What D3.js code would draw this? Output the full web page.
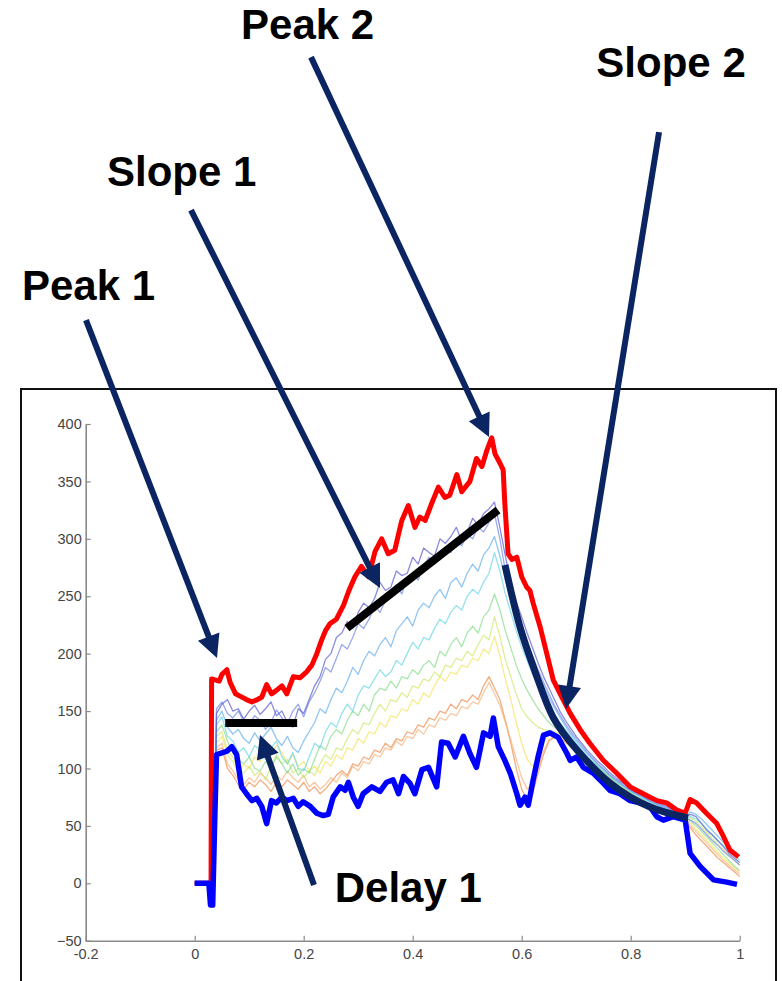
<!DOCTYPE html>
<html>
<head>
<meta charset="utf-8">
<script src="https://cdn.jsdelivr.net/npm/d3@7"></script>
<style>
html,body{margin:0;padding:0;background:#fff;}
svg{display:block;}
</style>
</head>
<body>
<svg id="chart" width="782" height="981"></svg>
<script>
// ---------------- DATA ----------------
const xTicks = [-0.2, 0, 0.2, 0.4, 0.6, 0.8, 1];
const xTickLabels = ["-0.2", "0", "0.2", "0.4", "0.6", "0.8", "1"];
const yTicks = [-50, 0, 50, 100, 150, 200, 250, 300, 350, 400];

// thick upper envelope (red) [x, value]
const redSeries = [[0,0],[0.03,0],[0.031,178],[0.045,176],[0.05,182],[0.059,186],[0.065,175],[0.075,165],[0.083,163],[0.095,160],[0.105,158],[0.115,160],[0.123,162],[0.132,173],[0.141,165],[0.15,168],[0.16,172],[0.169,165],[0.181,180],[0.193,179],[0.205,184],[0.215,190],[0.224,200],[0.233,212],[0.24,220],[0.248,226],[0.26,230],[0.273,242],[0.283,255],[0.294,267],[0.306,276],[0.319,267],[0.331,289],[0.343,300],[0.355,287],[0.367,290],[0.38,316],[0.392,329],[0.404,310],[0.413,319],[0.423,316],[0.435,331],[0.447,345],[0.459,336],[0.468,338],[0.481,356],[0.49,341],[0.505,350],[0.517,370],[0.527,363],[0.536,377],[0.545,388],[0.551,374],[0.56,366],[0.566,360],[0.569,331],[0.575,287],[0.582,282],[0.591,284],[0.6,267],[0.609,258],[0.615,255],[0.621,244],[0.634,223],[0.646,200],[0.658,177],[0.676,160],[0.689,148],[0.707,134],[0.725,122],[0.75,107],[0.774,96],[0.799,84],[0.823,78],[0.848,72],[0.866,70],[0.884,64],[0.9,61],[0.909,73],[0.921,70],[0.939,61],[0.958,52],[0.97,41],[0.982,29],[0.998,23]];

// thick lower envelope (blue) [x, value]
const blueSeries = [[0,0],[0.026,0],[0.029,-19],[0.033,-19],[0.037,60],[0.04,112],[0.059,115],[0.068,119],[0.077,112],[0.086,84],[0.095,78],[0.105,72],[0.114,74],[0.123,67],[0.132,52],[0.141,72],[0.15,70],[0.16,75],[0.169,72],[0.181,74],[0.19,67],[0.199,71],[0.212,67],[0.224,61],[0.236,59],[0.245,60],[0.254,75],[0.267,84],[0.276,81],[0.282,88],[0.291,75],[0.3,67],[0.309,78],[0.325,84],[0.34,80],[0.352,88],[0.364,90],[0.374,78],[0.383,93],[0.395,87],[0.404,78],[0.417,99],[0.429,101],[0.444,84],[0.453,123],[0.465,122],[0.478,110],[0.493,128],[0.505,113],[0.517,101],[0.53,131],[0.542,128],[0.548,144],[0.557,119],[0.569,107],[0.579,96],[0.591,78],[0.597,68],[0.606,75],[0.612,68],[0.621,90],[0.63,110],[0.64,129],[0.652,131],[0.667,127],[0.683,113],[0.689,107],[0.701,110],[0.713,101],[0.731,96],[0.75,87],[0.762,81],[0.78,78],[0.799,72],[0.817,70],[0.835,67],[0.848,58],[0.86,55],[0.878,58],[0.9,55],[0.909,26],[0.927,15],[0.952,3],[0.976,1],[0.995,-1]];

// shared x grid for thin traces: 0, 0.03, 0.035, then 0.04 .. 1.00 by 0.01
const thinX = [0, 0.03, 0.035, 0.04,0.05,0.06,0.07,0.08,0.09,0.10,0.11,0.12,0.13,0.14,0.15,0.16,0.17,0.18,0.19,0.20,0.21,0.22,0.23,0.24,0.25,0.26,0.27,0.28,0.29,0.30,0.31,0.32,0.33,0.34,0.35,0.36,0.37,0.38,0.39,0.40,0.41,0.42,0.43,0.44,0.45,0.46,0.47,0.48,0.49,0.50,0.51,0.52,0.53,0.54,0.55,0.56,0.57,0.58,0.59,0.60,0.61,0.62,0.63,0.64,0.65,0.66,0.67,0.68,0.69,0.70,0.71,0.72,0.73,0.74,0.75,0.76,0.77,0.78,0.79,0.80,0.81,0.82,0.83,0.84,0.85,0.86,0.87,0.88,0.89,0.90,0.91,0.92,0.93,0.94,0.95,0.96,0.97,0.98,0.99,1.00];

const trace1 = [0,0,0,148,156,160,150,152,143,150,155,147,152,158,146,150,140,136,152,148,160,172,180,195,200,214,218,228,222,236,244,240,248,262,255,258,272,268,270,284,278,292,288,285,300,296,302,310,298,306,318,312,322,326,332,310,285,262,245,232,218,205,192,180,170,160,150,142,135,128,122,116,111,106,102,97,93,89,86,82,79,77,74,72,70,68,66,63,61,58,60,58,52,46,42,37,32,26,22,18];
const trace2 = [0,0,0,152,158,148,144,150,141,138,146,142,134,140,151,144,139,150,156,145,158,166,176,188,184,196,208,204,214,226,222,230,242,236,246,254,260,252,266,270,264,276,284,278,282,292,288,298,294,304,300,310,306,314,322,300,272,250,236,222,210,198,186,175,165,155,147,139,132,126,120,114,109,104,100,95,91,88,84,81,78,76,73,71,69,67,65,62,60,57,55,52,47,42,37,33,28,24,20,16];
const trace3 = [0,0,0,142,150,136,130,134,126,122,131,124,130,136,126,120,128,118,114,124,132,140,152,148,160,170,166,176,188,182,194,202,198,208,214,206,220,226,232,224,238,244,240,250,256,248,262,266,258,270,278,272,286,292,302,285,265,248,232,218,205,193,182,172,162,153,145,137,130,124,118,113,108,103,99,95,91,87,84,80,78,75,73,70,68,66,64,62,60,58,62,60,56,51,46,41,36,31,27,24];
const trace4 = [0,0,0,138,145,128,124,114,118,110,120,116,108,118,124,110,104,114,100,98,110,122,118,132,140,136,148,156,150,164,172,170,178,186,180,184,194,190,200,210,204,214,212,222,230,226,236,242,238,250,256,252,262,270,288,272,252,236,220,206,194,182,172,163,155,147,140,134,128,122,116,111,106,102,98,94,90,86,83,80,77,74,72,70,68,66,64,62,60,57,58,56,52,47,42,37,33,28,24,20];
const trace5 = [0,0,0,132,138,124,114,108,104,110,100,98,106,100,110,104,96,104,94,100,96,108,120,116,128,134,130,142,150,146,156,150,164,170,168,176,170,180,178,186,182,190,194,188,202,198,208,214,206,218,224,218,232,238,252,238,220,205,190,178,168,160,152,146,140,136,132,128,124,120,115,110,106,101,97,93,89,86,82,79,76,74,71,69,67,65,63,61,59,57,54,50,45,40,35,30,25,20,15,11];
const trace6 = [0,0,0,128,132,116,110,100,96,102,94,98,90,102,112,104,108,96,100,92,98,94,104,112,108,118,116,126,134,130,140,138,148,156,150,160,158,166,162,172,170,178,176,184,180,190,188,196,194,202,198,208,216,212,232,215,195,180,165,152,145,140,136,134,133,131,129,126,122,118,113,108,104,100,96,92,88,85,81,78,75,73,70,68,66,64,62,60,58,56,57,54,49,44,39,34,29,24,20,16];
const trace7 = [0,0,0,122,128,112,106,96,104,100,110,106,116,112,120,114,104,112,102,106,98,102,96,106,102,112,108,118,116,126,122,132,130,140,136,146,144,152,150,160,156,166,162,172,180,176,184,182,190,188,196,194,204,200,215,198,178,160,140,122,108,102,110,122,130,132,130,127,123,119,114,109,105,100,96,92,88,84,81,78,75,72,70,68,66,64,62,60,58,56,52,47,42,37,32,27,22,18,14,10];
const trace8 = [0,0,0,118,122,104,98,90,86,92,88,96,92,86,94,90,98,92,88,94,84,88,82,86,92,88,96,92,102,98,106,104,112,110,118,116,124,120,128,126,134,130,138,136,144,142,148,146,154,152,158,156,166,175,165,155,140,125,108,92,82,86,100,115,125,128,127,124,120,116,112,107,103,99,95,91,87,84,80,77,74,72,69,67,65,63,61,59,57,55,50,45,40,35,30,25,20,16,12,8];
const trace9 = [0,0,0,116,118,100,94,86,82,88,84,90,86,80,88,84,90,86,82,88,80,84,78,82,88,94,98,94,104,102,110,108,116,114,122,118,126,124,132,130,138,136,144,142,150,148,156,152,160,158,164,160,172,180,170,160,142,122,100,82,72,78,96,112,124,127,126,123,119,115,111,106,102,98,94,90,86,83,79,76,73,71,68,66,64,62,60,58,56,55,48,42,37,32,27,22,18,14,10,6];

const thinTraces = [trace9, trace8, trace7, trace6, trace5, trace4, trace3, trace2, trace1];
const thinColors = ["#ef8a4c", "#f4b27a", "#f5e35c", "#cfe86a", "#86dc8a", "#66d6e2", "#62aeee", "#6e86e2", "#5a58d0"];

// annotations (in data units)
const labelTexts = ["Peak 2", "Slope 2", "Slope 1", "Peak 1", "Delay 1"];
const labelX = [0.085, 0.737, -0.161, -0.317, 0.257];
const labelY = [735, 702, 607, 508, -16];
const arrowStart = [[-0.1995, 490.5], [-0.0068, 586.3], [0.2134, 719.5], [0.852, 654.2], [0.2189, -1.5]];
const arrowTip = [[0.0409, 196.2], [0.340, 257.1], [0.540, 388.6], [0.6812, 151.8], [0.1198, 129.1]];
const delayBar = [[0.056, 139.7], [0.188, 139.7]];
const slopeBar = [[0.2794, 222.3], [0.5565, 325.1]];
const decayCurve = [[0.5694, 277.2], [0.5969, 223.2], [0.6281, 179.6], [0.6574, 144.8], [0.7015, 116.1], [0.7620, 87.3], [0.8354, 66.4], [0.9051, 56.9]];

// ---------------- DRAW ----------------
const svg = d3.select("#chart");
const x = d3.scaleLinear().domain([-0.2, 1]).range([85.7, 739.7]);
const y = d3.scaleLinear().domain([-50, 400]).range([940.7, 424]);

// outer frame
svg.append("rect").attr("x", 21).attr("y", 389).attr("width", 755).attr("height", 610)
  .attr("fill", "#fff").attr("stroke", "#111").attr("stroke-width", 2);

const axisColor = "#8a8a8a";
const labelColor = "#454545";
const gx = svg.append("g").attr("transform", `translate(0,${y(-50)})`)
  .call(d3.axisBottom(x).tickValues(xTicks).tickFormat((d, i) => xTickLabels[i]).tickSizeInner(-5).tickSizeOuter(0).tickPadding(8));
const gy = svg.append("g").attr("transform", `translate(${x(-0.2)},0)`)
  .call(d3.axisLeft(y).tickValues(yTicks).tickFormat(d3.format("d")).tickSizeInner(-5).tickSizeOuter(0).tickPadding(4));
[gx, gy].forEach(g => {
  g.select(".domain").attr("stroke", axisColor).attr("stroke-width", 1.6);
  g.selectAll(".tick line").attr("stroke", axisColor).attr("stroke-width", 1.2);
  g.selectAll(".tick text").attr("fill", labelColor)
    .style("font-family", "Arial, 'Liberation Sans', sans-serif").style("font-size", "14.5px");
});

const line = d3.line().x(d => x(d[0])).y(d => y(d[1]));

// thin traces
thinTraces.forEach((tr, k) => {
  const pts = thinX.map((xv, i) => [xv, tr[i]]);
  svg.append("path").attr("d", line(pts)).attr("fill", "none")
    .attr("stroke", thinColors[k]).attr("stroke-width", 1.3).attr("stroke-opacity", 0.7)
    .attr("stroke-linejoin", "round");
});

// envelopes
svg.append("path").attr("d", line(redSeries)).attr("fill", "none")
  .attr("stroke", "#ff0000").attr("stroke-width", 5).attr("stroke-linejoin", "round");
svg.append("path").attr("d", line(blueSeries)).attr("fill", "none")
  .attr("stroke", "#0000ff").attr("stroke-width", 5.5).attr("stroke-linejoin", "round");

// annotation bars
const navy = "#0b2462";
[delayBar, slopeBar].forEach(b => {
  svg.append("path").attr("d", line(b)).attr("stroke", "#000").attr("stroke-width", 8).attr("fill", "none");
});
svg.append("path").attr("d", d3.line().x(d => x(d[0])).y(d => y(d[1])).curve(d3.curveNatural)(decayCurve))
  .attr("fill", "none").attr("stroke", navy).attr("stroke-width", 7);

// arrows
arrowStart.forEach((s, i) => {
  const x0 = x(s[0]), y0 = y(s[1]);
  const x1 = x(arrowTip[i][0]), y1 = y(arrowTip[i][1]);
  const dx = x1 - x0, dy = y1 - y0, L = Math.hypot(dx, dy);
  const ux = dx / L, uy = dy / L;
  const headLen = 23, headHalf = 11.5;
  const bx = x1 - ux * headLen, by = y1 - uy * headLen;
  svg.append("line").attr("x1", x0).attr("y1", y0).attr("x2", bx + ux * 2).attr("y2", by + uy * 2)
    .attr("stroke", navy).attr("stroke-width", 6);
  svg.append("path")
    .attr("d", `M${x1},${y1}L${bx - uy * headHalf},${by + ux * headHalf}L${bx + uy * headHalf},${by - ux * headHalf}Z`)
    .attr("fill", navy);
});

// labels
labelTexts.forEach((t, i) => {
  svg.append("text").attr("x", x(labelX[i])).attr("y", y(labelY[i])).text(t)
    .attr("fill", "#000").style("font-family", "Arial, 'Liberation Sans', sans-serif")
    .style("font-weight", "bold").style("font-size", "42px");
});
</script>
</body>
</html>
